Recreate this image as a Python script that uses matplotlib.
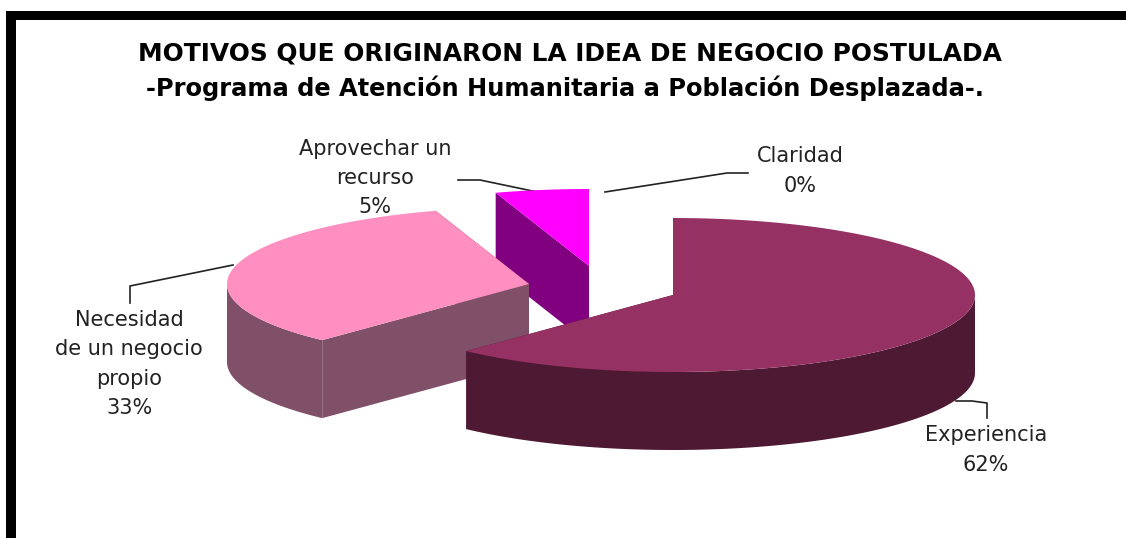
import numpy as np
import matplotlib
matplotlib.use("Agg")
import matplotlib.pyplot as plt
from matplotlib.patches import Polygon, Rectangle

plt.rcParams['font.family'] = ['DejaVu Sans']

# data
names = ["Experiencia", "Necesidad\nde un negocio\npropio", "Aprovechar un\nrecurso", "Claridad"]
shares = [62, 33, 5, 0]

top_colors = ["#963163", "#ff8fc1", "#ff00ff", "#ffffff"]
side_colors = ["#4e1a33", "#805069", "#800080", "#ffffff"]

# exploded pie centres, radii and thickness, in pixels
centers = [(673, 295), (529, 284), (589, 266), (589, 266)]
rx = 302
ry = 77
depth = 78

label_pos = [(986, 450), (129, 364), (375, 178), (800, 171)]
leaders = [
    [(956, 401), (972, 401), (987, 403), (987, 418)],
    [(130, 303), (130, 286), (233, 265)],
    [(458, 180), (480, 180), (542, 193)],
    [(605, 192), (727, 173), (748, 173)],
]


def rim(center, a, b):
    # points on the ellipse, angles clockwise from 12 o'clock
    t = np.radians(np.linspace(a, b, 120))
    return np.column_stack([center[0] + rx * np.sin(t), center[1] - ry * np.cos(t)])


fig = plt.figure(figsize=(11.26, 5.38), dpi=100)
ax = fig.add_axes([0, 0, 1, 1])
ax.set_xlim(0, 1126)
ax.set_ylim(538, 0)
ax.axis("off")

# frame of the original picture, open at the right and at the bottom
ax.add_patch(Rectangle((6, 11), 10, 527, color="black", lw=0))
ax.add_patch(Rectangle((6, 11), 1120, 9, color="black", lw=0))

ax.text(570, 53, "MOTIVOS QUE ORIGINARON LA IDEA DE NEGOCIO POSTULADA",
        fontsize=17.9, fontweight="bold", ha="center", va="center")
ax.text(565, 88, "-Programa de Atención Humanitaria a Población Desplazada-.",
        fontsize=17.4, fontweight="bold", ha="center", va="center")

edges = np.concatenate([[0], np.cumsum(shares)]) * 3.6
down = np.array([0, depth])

# back slices first so the big one ends up in front
for i in [2, 1, 0]:
    c = np.array(centers[i], dtype=float)
    arc = rim(c, edges[i], edges[i + 1])
    z = 2 * (3 - i)
    # only the front half of the rim shows a wall
    a = max(edges[i], 90)
    b = min(edges[i + 1], 270)
    if b > a:
        front = rim(c, a, b)
        ax.add_patch(Polygon(np.vstack([front, front[::-1] + down]), color=side_colors[i], lw=0, zorder=z))
    for p in [arc[0], arc[-1]]:
        ax.add_patch(Polygon([c, p, p + down, c + down], color=side_colors[i], lw=0, zorder=z))
    ax.add_patch(Polygon(np.vstack([[c], arc]), color=top_colors[i], lw=0, zorder=z + 1))

for i in range(len(names)):
    ax.text(label_pos[i][0], label_pos[i][1], names[i] + "\n" + str(shares[i]) + "%",
            fontsize=15, color="#222222", ha="center", va="center", linespacing=1.58)
    pts = np.array(leaders[i])
    ax.plot(pts[:, 0], pts[:, 1], color="#222222", lw=1.2)

plt.savefig("out.png", dpi=100)
